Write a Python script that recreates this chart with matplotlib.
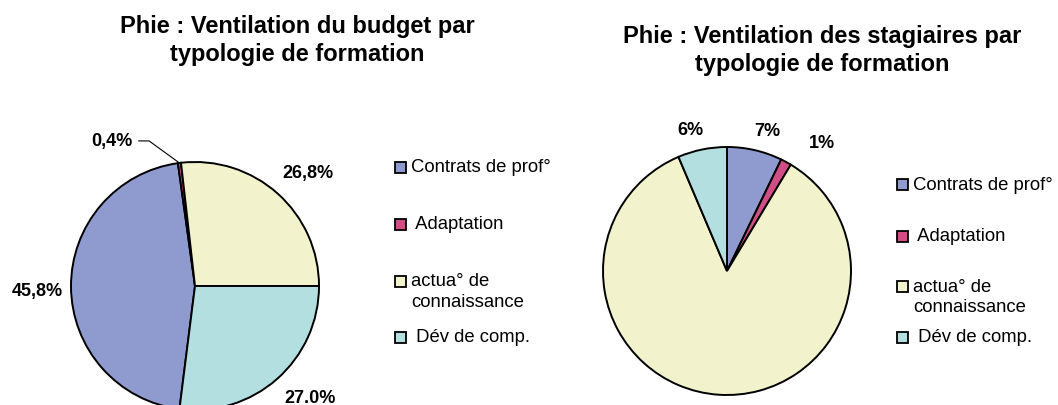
import numpy as np
import matplotlib
matplotlib.use("Agg")
import matplotlib.pyplot as plt
from matplotlib.patches import Rectangle

plt.rcParams["font.family"] = ["Liberation Sans", "DejaVu Sans"]

# data
categories = ["Contrats de prof°", " Adaptation", "actua° de\nconnaissance", " Dév de comp."]
colors = ["#8F9ACE", "#D14D85", "#F2F3CD", "#B3DFE0"]

budget = [45.8, 0.4, 26.8, 27.0]
budget_labels = ["45,8%", "0,4%", "26,8%", "27.0%"]

stagiaires = [7.2, 1.4, 85.0, 6.4]
stagiaires_labels = ["7%", "1%", "", "6%"]

titles = ["Phie : Ventilation du budget par\ntypologie de formation",
          "Phie : Ventilation des stagiaires par\ntypologie de formation"]

W, H = 1058, 406
fig = plt.figure(figsize=(W / 100, H / 100), dpi=100)


def px_axes(cx, cy, r):
    # axes holding a pie of radius r px centred at (cx, cy) in image pixels
    return fig.add_axes([(cx - r) / W, (H - cy - r) / H, 2 * r / W, 2 * r / H])


def draw_pie(ax, values, start):
    wedges, _ = ax.pie(values, colors=colors, startangle=start, counterclock=False,
                       radius=1.0,
                       wedgeprops=dict(edgecolor="black", linewidth=1.4))
    ax.set_xlim(-1, 1)
    ax.set_ylim(-1, 1)
    ax.set_aspect("equal")
    ax.axis("off")
    for w in wedges:
        w.set_clip_on(False)
    return wedges


def mid_angle(w):
    return np.deg2rad((w.theta1 + w.theta2) / 2)


def put_label(ax, w, text, dist, nudge):
    a = mid_angle(w) + np.deg2rad(nudge)
    ax.text(dist * np.cos(a), dist * np.sin(a), text, ha="center", va="center",
            fontsize=13, fontweight="bold", clip_on=False)


def px_text(x, y, s, **kw):
    fig.text(x / W, (H - y) / H, s, **kw)


def draw_legend(x, rows, gap=21):
    for i, (lab, col) in enumerate(zip(categories, colors)):
        y = rows[i]
        fig.patches.append(Rectangle((x / W, (H - y - 5.5) / H), 11 / W, 11 / H,
                                     transform=fig.transFigure, facecolor=col,
                                     edgecolor="black", linewidth=1.3))
        # Excel keeps the marker on the first line of a wrapped entry
        for k, line in enumerate(lab.split("\n")):
            px_text(x + 16, y + k * gap, line, ha="left", va="center", fontsize=13.3)


# budget pie: actua ends at 3 o'clock
ax1 = px_axes(195, 287, 124)
w1 = draw_pie(ax1, budget, 360 * sum(budget[:3]) / 100)
put_label(ax1, w1[0], budget_labels[0], 1.27, 1.2)
put_label(ax1, w1[2], budget_labels[2], 1.29, -3)
put_label(ax1, w1[3], budget_labels[3], 1.29, 4.6)
a = mid_angle(w1[1])
ax1.annotate(budget_labels[1], xy=(np.cos(a), np.sin(a)), xytext=(-0.5, 1.17),
             ha="right", va="center", fontsize=13, fontweight="bold",
             annotation_clip=False,
             arrowprops=dict(arrowstyle="-", color="black", lw=0.8, shrinkA=2, shrinkB=0,
                             connectionstyle="angle,angleA=0,angleB=-36,rad=0"))

# stagiaires pie
ax2 = px_axes(727, 272, 124)
w2 = draw_pie(ax2, stagiaires, 90)
for i, (d, n) in enumerate([(1.18, -3), (1.29, -8), (None, 0), (1.18, 3)]):
    if stagiaires_labels[i]:
        put_label(ax2, w2[i], stagiaires_labels[i], d, n)

# titles, one line at a time
for (cx, y0), t in zip([(297, 27), (822, 36)], titles):
    for k, line in enumerate(t.split("\n")):
        px_text(cx, y0 + 28 * k, line, ha="center", va="center",
                fontsize=17, fontweight="bold")

# legends (hand placed, Excel style)
draw_legend(395, [168, 225, 282, 338])
draw_legend(897, [185, 237, 287, 338])

fig.savefig("out.png", dpi=100)
